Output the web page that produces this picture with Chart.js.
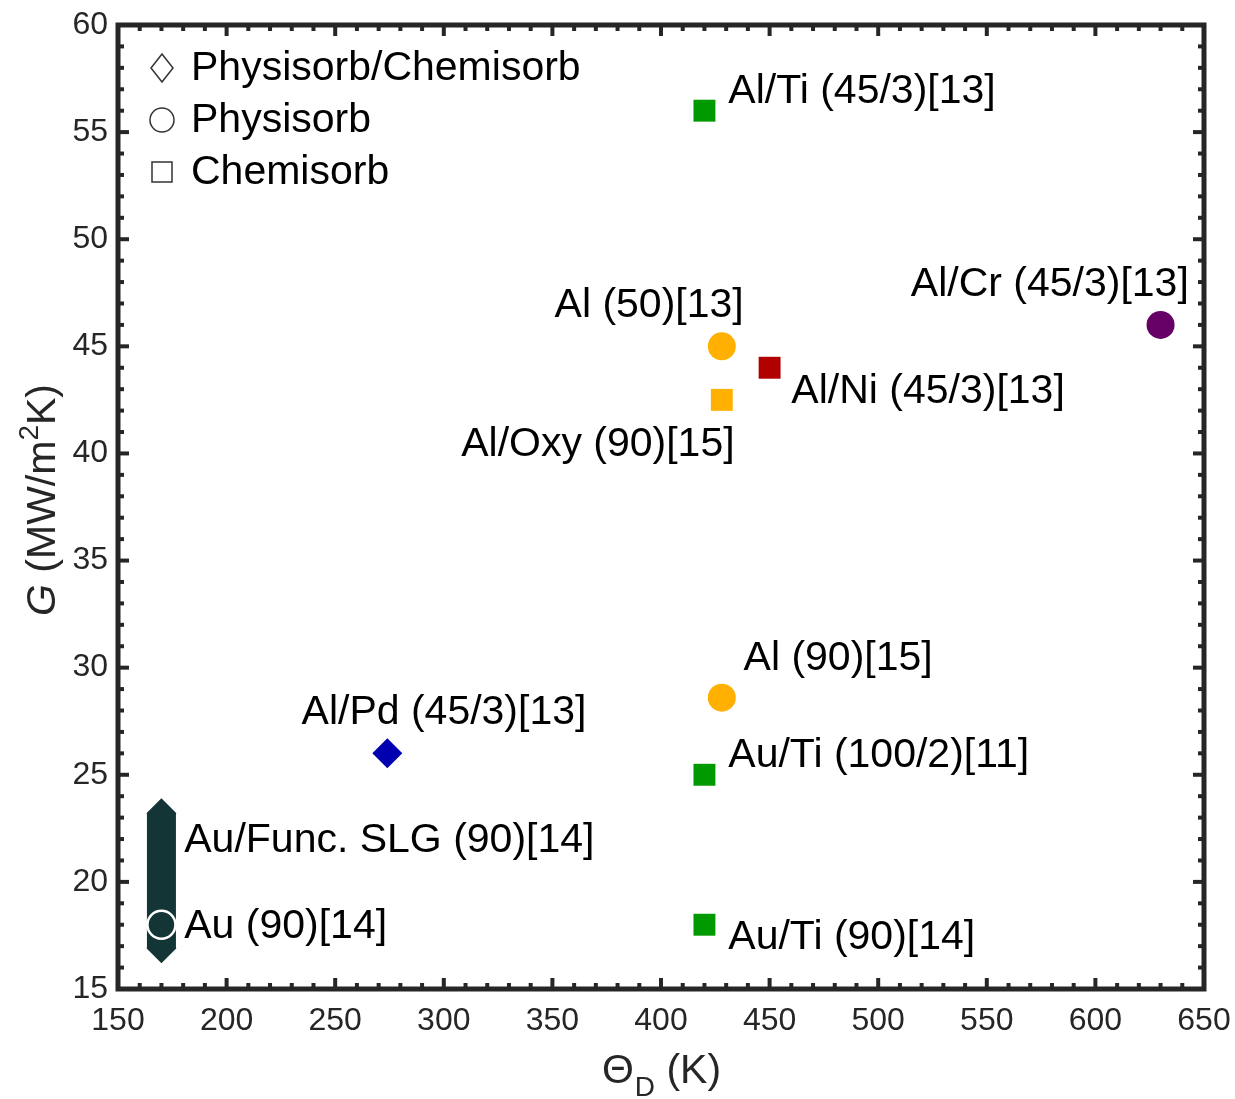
<!DOCTYPE html>
<html>
<head>
<meta charset="utf-8">
<script src="https://cdn.jsdelivr.net/npm/chart.js@4"></script>
<style>
  html, body { margin: 0; padding: 0; background: #fff; }
  #wrap { width: 1235px; height: 1099px; }
</style>
</head>
<body>
<div id="wrap"><canvas id="chart" width="1235" height="1099"></canvas></div>
<script>
// measured points (x = Debye temperature, y = thermal boundary conductance)
const names = ["Al/Ti (45/3)[13]", "Al (50)[13]", "Al/Ni (45/3)[13]", "Al/Oxy (90)[15]", "Al/Cr (45/3)[13]",
  "Al (90)[15]", "Au/Ti (100/2)[11]", "Au/Ti (90)[14]", "Al/Pd (45/3)[13]", "Au (90)[14]"];
const thetaD = [420, 428, 450, 428, 630, 428, 420, 420, 274, 170];
const G = [56, 45, 44, 42.5, 46, 28.6, 25, 18, 26, 18];
const bonding = ["Chemisorb", "Physisorb", "Chemisorb", "Chemisorb", "Physisorb",
  "Physisorb", "Chemisorb", "Chemisorb", "Physisorb/Chemisorb", "Physisorb"];

// Au/Func. SLG range bar
const slgTheta = 170;
const slgRange = [16.9, 23.2];

// where each text label sits (data units)
const labelText = ["Al/Ti (45/3)[13]", "Al (50)[13]", "Al/Ni (45/3)[13]", "Al/Oxy (90)[15]", "Al/Cr (45/3)[13]",
  "Al (90)[15]", "Au/Ti (100/2)[11]", "Au/Ti (90)[14]", "Al/Pd (45/3)[13]", "Au (90)[14]", "Au/Func. SLG (90)[14]"];
const labelX = [431, 351, 460, 308, 515, 438, 431, 431, 234.5, 180.5, 180.5];
const labelY = [56.9, 46.9, 42.9, 40.4, 47.9, 30.4, 25.9, 17.4, 27.9, 17.9, 21.9];

const legendNames = ["Physisorb/Chemisorb", "Physisorb", "Chemisorb"];

const xTicks = [150, 200, 250, 300, 350, 400, 450, 500, 550, 600, 650];
const yTicks = [15, 20, 25, 30, 35, 40, 45, 50, 55, 60];

const COLORS = ["#009900", "#ffb000", "#b00000", "#ffb000", "#660066",
  "#ffb000", "#009900", "#009900", "#0000b0", "#133535"];
const STYLE = { "Physisorb": "circle", "Chemisorb": "rect", "Physisorb/Chemisorb": "rectRot" };
const RADIUS = { "circle": 14, "rect": 15.5, "rectRot": 15 };
const AXIS = "#262626";
const FONT = "'Liberation Sans', Arial, sans-serif";

const styles = bonding.map(b => STYLE[b]);

const framePlugin = {
  id: "frame",
  afterDatasetsDraw(chart) {
    const { ctx, chartArea: a, scales: { x, y } } = chart;
    ctx.save();
    ctx.fillStyle = AXIS;
    // minor + major ticks, pointing inward on all four sides
    for (let v = 150; v <= 650; v += 10) {
      const px = x.getPixelForValue(v);
      const len = v % 50 === 0 ? 11 : 6;
      ctx.fillRect(px - 2, a.bottom - len, 4, len);
      ctx.fillRect(px - 2, a.top, 4, len);
    }
    for (let v = 15; v <= 60; v += 1) {
      const py = y.getPixelForValue(v);
      const len = v % 5 === 0 ? 11 : 6;
      ctx.fillRect(a.left, py - 2, len, 4);
      ctx.fillRect(a.right - len, py - 2, len, 4);
    }
    ctx.strokeStyle = AXIS;
    ctx.lineWidth = 5;
    ctx.strokeRect(a.left, a.top, a.right - a.left, a.bottom - a.top);

    // point labels
    ctx.fillStyle = "#000";
    ctx.font = "41px " + FONT;
    ctx.textAlign = "left";
    ctx.textBaseline = "middle";
    labelText.forEach((t, i) => {
      ctx.fillText(t, x.getPixelForValue(labelX[i]), y.getPixelForValue(labelY[i]));
    });

    // legend (marker shapes only)
    legendNames.forEach((n, i) => {
      const lx = a.left + 44, ly = a.top + 43 + i * 52;
      const st = STYLE[n];
      ctx.strokeStyle = "#333";
      ctx.lineWidth = 1.5;
      ctx.beginPath();
      if (st === "rectRot") {
        ctx.moveTo(lx, ly - 14); ctx.lineTo(lx + 11, ly); ctx.lineTo(lx, ly + 14); ctx.lineTo(lx - 11, ly); ctx.closePath();
      } else if (st === "circle") {
        ctx.arc(lx, ly, 12, 0, Math.PI * 2);
      } else {
        ctx.rect(lx - 10, ly - 10, 20, 20);
      }
      ctx.stroke();
      ctx.fillStyle = "#000";
      ctx.font = "41px " + FONT;
      ctx.fillText(n, a.left + 73, ly + 1);
    });

    // axis titles
    ctx.fillStyle = AXIS;
    ctx.textBaseline = "alphabetic";
    const cx = (a.left + a.right) / 2;
    ctx.font = "41px " + FONT;
    const w1 = ctx.measureText("\u0398").width;
    ctx.font = "28px " + FONT;
    const w2 = ctx.measureText("D").width;
    ctx.font = "41px " + FONT;
    const w3 = ctx.measureText(" (K)").width;
    let sx = cx - (w1 + w2 + w3) / 2;
    const by = 1083;
    ctx.fillText("\u0398", sx, by);
    ctx.font = "28px " + FONT;
    ctx.fillText("D", sx + w1 + 1, by + 13);
    ctx.font = "41px " + FONT;
    ctx.fillText(" (K)", sx + w1 + w2 + 1, by);

    ctx.save();
    ctx.translate(55, (a.top + a.bottom) / 2);
    ctx.rotate(-Math.PI / 2);
    const parts = [
      { t: "G", f: "italic 41px " + FONT, dy: 0 },
      { t: " (MW/m", f: "41px " + FONT, dy: 0 },
      { t: "2", f: "28px " + FONT, dy: -17 },
      { t: "K)", f: "41px " + FONT, dy: 0 },
    ];
    let total = 0;
    parts.forEach(p => { ctx.font = p.f; p.w = ctx.measureText(p.t).width; total += p.w; });
    let px = -total / 2 + 7;
    parts.forEach(p => { ctx.font = p.f; ctx.fillText(p.t, px, p.dy); px += p.w; });
    ctx.restore();
    ctx.restore();
  }
};

new Chart(document.getElementById("chart"), {
  type: "scatter",
  data: {
    datasets: [
      {
        data: thetaD.map((t, i) => ({ x: t, y: G[i] })),
        pointStyle: styles,
        pointRadius: styles.map(s => RADIUS[s]),
        backgroundColor: COLORS,
        borderColor: names.map(n => n === "Au (90)[14]" ? "#ffffff" : "rgba(0,0,0,0)"),
        borderWidth: names.map(n => n === "Au (90)[14]" ? 2.5 : 0),
      },
      {
        type: "line",
        data: slgRange.map(v => ({ x: slgTheta, y: v })),
        borderColor: "#133535",
        backgroundColor: "#133535",
        borderWidth: 29,
        borderCapStyle: "butt",
        pointStyle: "rectRot",
        pointRadius: 15,
        pointBorderWidth: 0,
        fill: false,
      },
    ],
  },
  options: {
    responsive: false,
    animation: false,
    events: [],
    layout: { padding: { top: 25, right: 31, left: 0, bottom: 0 } },
    plugins: { legend: { display: false }, tooltip: { enabled: false } },
    scales: {
      x: {
        type: "linear", min: 150, max: 650,
        afterFit: s => { s.height = 110; s.paddingLeft = 0; s.paddingRight = 0; },
        afterBuildTicks: s => { s.ticks = xTicks.map(v => ({ value: v })); },
        grid: { display: false, drawTicks: false },
        border: { display: false },
        ticks: { color: AXIS, font: { family: FONT, size: 32 }, padding: 13, maxRotation: 0, autoSkip: false },
      },
      y: {
        type: "linear", min: 15, max: 60,
        afterFit: s => { s.width = 118; s.paddingTop = 0; s.paddingBottom = 0; },
        afterBuildTicks: s => { s.ticks = yTicks.map(v => ({ value: v })); },
        grid: { display: false, drawTicks: false },
        border: { display: false },
        ticks: { color: AXIS, font: { family: FONT, size: 32 }, padding: 10, autoSkip: false },
      },
    },
  },
  plugins: [framePlugin],
});
</script>
</body>
</html>
